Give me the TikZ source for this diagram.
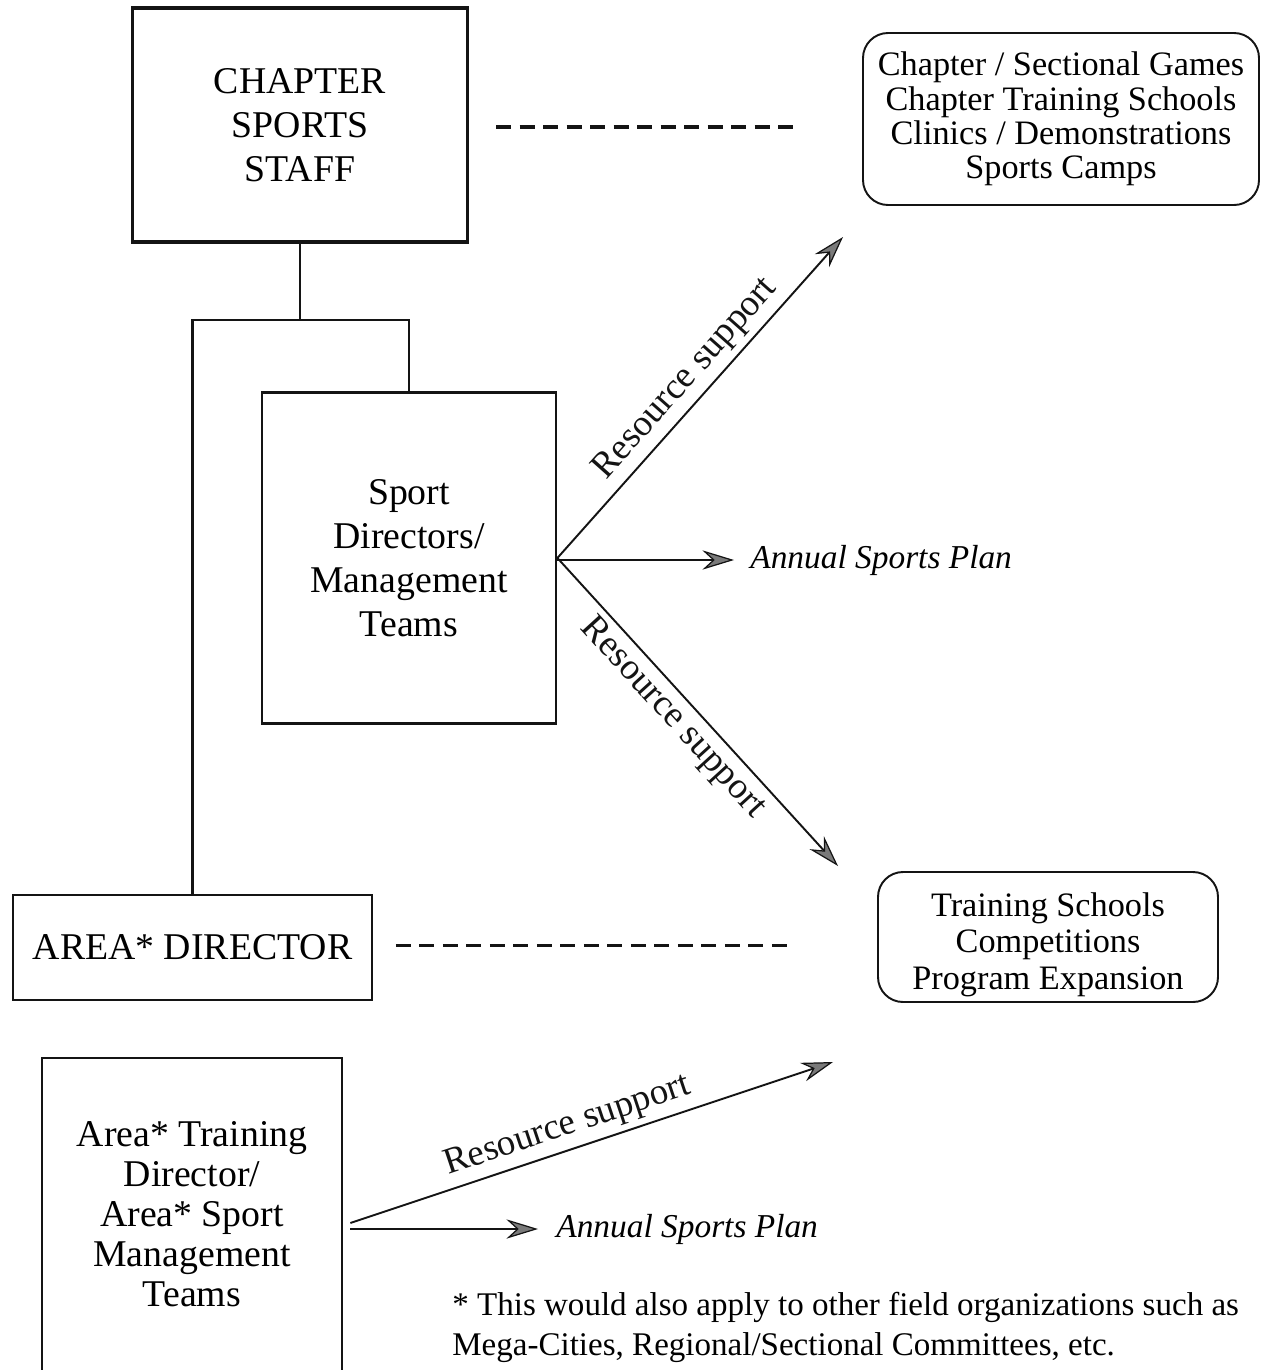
\documentclass[tikz,border=0pt]{standalone}
\usepackage{fontspec}
\setmainfont{Liberation Serif}
\usetikzlibrary{arrows.meta, positioning, calc}
\definecolor{InkBlack}{HTML}{141414}
\definecolor{TipGray}{HTML}{7A7A7A}
\newcommand{\BoxFont}{\fontsize{21.5pt}{25pt}\selectfont}
\newcommand{\ListFont}{\fontsize{19.5pt}{19.5pt}\selectfont}
\newcommand{\NoteFont}{\fontsize{18.8pt}{22.5pt}\selectfont}

\begin{document}
\begin{tikzpicture}[x=0.2mm, y=-0.2mm,
  staffbox/.style={draw=InkBlack, line width=1.9pt, inner sep=0pt, align=center, font=\BoxFont},
  listbox/.style={draw=InkBlack, line width=1.1pt, rounded corners=5mm, inner sep=0pt, align=center},
  flow/.style={InkBlack, line width=1.1pt, -{Stealth[length=18pt, width=11pt, inset=6pt, fill=TipGray, line width=0.7pt]}},
  tie/.style={InkBlack, line width=1.7pt},
  dashline/.style={InkBlack, line width=1.8pt, dash pattern=on 3mm off 1.7mm},
  supportlabel/.style={sloped, font=\fontsize{21pt}{21pt}\selectfont},
  plan/.style={anchor=west, inner sep=0pt, font=\fontsize{19pt}{19pt}\selectfont\itshape}
]
  \useasboundingbox (0,0) rectangle (1261,1370);

  % chapter level
  \node[staffbox, minimum width=67mm, minimum height=46.8mm] (staff) at (300,125) {CHAPTER\\SPORTS\\STAFF};
  \node[listbox, minimum width=79.2mm, minimum height=34.4mm, font=\ListFont] (games) at (1061,119)
    {Chapter / Sectional Games\\Chapter Training Schools\\Clinics / Demonstrations\\Sports Camps};
  \draw[dashline] ($(staff.east)+(27,2)$) -- ($(games.west |- staff.east)+(-63,2)$);

  % sport directors
  \node[staffbox, line width=1.6pt, minimum width=58.8mm, minimum height=66.2mm] (leads) at (409,558)
    {Sport\\Directors/\\Management\\Teams};
  \node[listbox, minimum width=68mm, minimum height=26mm, font={\fontsize{19.5pt}{20.7pt}\selectfont}] (expand) at (1048,937)
    {\rule{0pt}{22pt}Training Schools\\Competitions\\Program Expansion};
  \coordinate (upTip) at (843,237);
  \coordinate (downTip) at (838,866);
  \draw[flow] (leads.east) -- node[supportlabel, above, pos=0.51] {Resource support} (upTip);
  \draw[flow] (leads.east) -- node[supportlabel, below, pos=0.47] {Resource support} (downTip);
  \node[plan] (plan1) at (750,560) {Annual Sports Plan};
  \draw[flow] (leads.east |- plan1.west) -- ($(plan1.west)+(-16,0)$);

  % area level
  \node[staffbox, line width=1.1pt, minimum width=71.8mm, minimum height=21mm] (area) at (192.5,947.5) {AREA* DIRECTOR};
  \draw[dashline] ($(area.east)+(23,-2)$) -- ($(expand.west |- area.east)+(-90,-2)$);
  \coordinate (split) at (300,320);
  \draw[tie] (staff.south) -- (split);
  \draw[tie] (area.north) |- (split) -| (leads.north);

  % area training
  \node[inner sep=0pt, minimum width=60mm, minimum height=62.4mm, align=center,
    font={\fontsize{21.5pt}{22.7pt}\selectfont}] (train) at (192,1214)
    {Area* Training\\Director/\\Area* Sport\\Management\\Teams};
  \draw[InkBlack, line width=1.1pt] (train.south west) -- (train.north west) -- (train.north east) -- (train.south east);
  \coordinate (lowTip) at (833,1062);
  \draw[flow] ($(train.east)+(8,9)$) -- node[supportlabel, above, pos=0.465] {Resource support} (lowTip);
  \node[plan] (plan2) at (556,1229) {Annual Sports Plan};
  \draw[flow] ($(train.east)+(8,15)$) -- ($(plan2.west)+(-18,0)$);

  % footnote
  \node[anchor=north west, inner sep=0pt, align=left, font=\NoteFont] (note) at (452,1292)
    {* This would also apply to other field organizations such as\\Mega-Cities, Regional/Sectional Committees, etc.};
\end{tikzpicture}
\end{document}
